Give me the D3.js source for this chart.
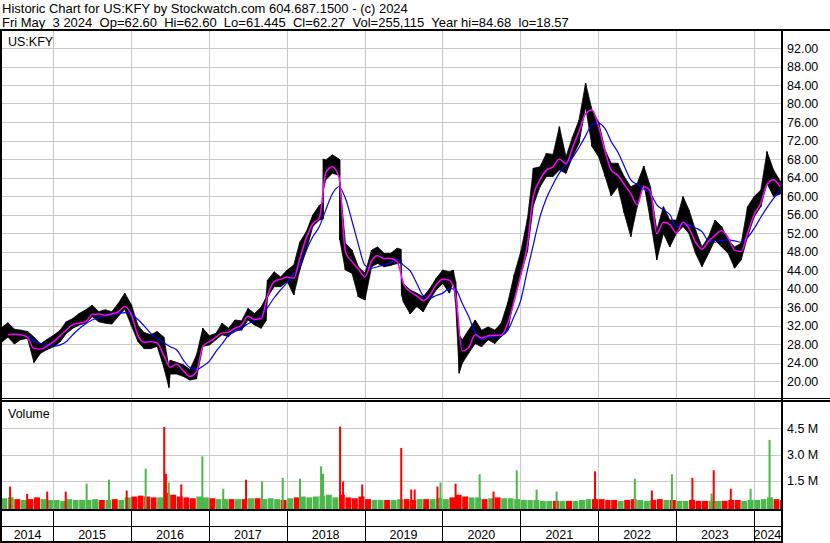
<!DOCTYPE html>
<html>
<head>
<meta charset="utf-8">
<script src="https://cdn.jsdelivr.net/npm/d3@7"></script>
<style>
  body { margin: 0; background: #fff; }
  svg { display: block; }
  text { font-family: "Liberation Sans", Arial, sans-serif; fill: #000; }
</style>
</head>
<body>
<script>
// ---- data (monthly, first sample May 2014) ----
const monthHigh = [
  31.5, 32.6, 31.2, 31.0, 30.7, 29.5, 28.0, 29.0,
  29.9, 31.0, 32.8, 33.5, 34.6, 35.4, 36.4, 35.0, 35.4, 35.0, 36.8, 39.0,
  36.5, 32.0, 30.5, 30.0, 30.7, 29.5, 24.5, 24.0, 23.5, 22.5, 25.5, 31.4,
  29.8, 30.3, 32.5, 31.4, 33.2, 33.0, 35.7, 34.6, 36.0, 41.8, 43.6, 42.5,
  44.0, 45.1, 50.0, 52.3, 55.9, 58.0, 67.8, 68.9, 68.0, 49.8, 48.3, 44.7,
  43.3, 48.3, 49.0, 47.6, 47.6, 48.7, 41.0, 39.7, 39.0, 38.2, 40.0, 42.2,
  44.0, 43.6, 41.5, 28.9, 31.0, 33.2, 31.0, 31.7, 31.0, 32.5, 37.0, 43.0,
  48.0, 55.0, 66.0, 66.3, 69.2, 69.0, 75.0, 68.5, 72.8, 76.4, 84.4, 78.6,
  76.0, 69.9, 67.1, 67.1, 64.2, 62.0, 62.7, 66.5, 62.0, 52.6, 57.7, 54.8,
  54.8, 59.9, 57.0, 52.6, 49.0, 51.2, 54.8, 53.4, 50.5, 49.0, 49.8, 57.7,
  59.9, 61.3, 69.6, 65.6, 63.3
];
const monthLow = [
  28.3, 29.5, 28.0, 29.0, 29.2, 24.0, 26.0, 26.8,
  27.4, 28.5, 30.2, 31.4, 32.1, 32.5, 33.9, 32.8, 32.5, 32.3, 34.0, 35.5,
  32.0, 28.5, 27.0, 27.0, 27.5, 23.0, 21.5, 21.5, 21.0, 20.2, 20.5, 27.5,
  27.8, 28.9, 30.0, 29.6, 31.0, 31.0, 33.2, 32.1, 31.4, 38.2, 40.4, 40.4,
  41.5, 38.6, 44.0, 48.3, 53.4, 54.8, 63.5, 64.9, 64.5, 44.0, 43.3, 38.2,
  37.5, 44.7, 45.4, 44.7, 45.0, 45.4, 37.0, 34.5, 36.1, 35.0, 37.5, 39.7,
  41.1, 39.0, 37.0, 23.8, 26.0, 28.1, 27.4, 28.9, 28.1, 29.6, 31.0, 38.0,
  43.0, 48.0, 58.0, 62.0, 64.2, 64.2, 65.6, 64.9, 68.5, 71.4, 79.3, 70.7,
  68.5, 64.2, 60.0, 62.0, 56.3, 51.2, 57.7, 62.7, 54.8, 46.2, 51.9, 49.0,
  51.9, 53.4, 51.9, 47.6, 44.7, 47.6, 50.5, 49.0, 47.6, 44.4, 46.2, 51.2,
  55.5, 57.7, 62.7, 59.9, 60.4
];
// sharp single-day moves
const eventDates = ["2016-06-27", "2017-09-25", "2018-06-20", "2018-06-22", "2018-09-06",
                    "2018-09-07", "2019-06-20", "2019-06-24", "2020-02-21", "2020-03-20"];
const eventHigh = [23.0, 38.0, 58.5, 68.0, 67.8, 63.0, 48.5, 42.0, 44.0, 30.0];
const eventLow  = [18.6, 33.0, 55.0, 61.5, 64.5, 50.5, 45.5, 38.5, 41.5, 21.7];

// magenta (short) moving average, from Jun 2014
const maShort = [
  30.0, 30.1, 30.0, 29.4, 27.0, 26.9, 27.6,
  28.5, 29.8, 31.0, 32.2, 32.5, 32.8, 34.4, 34.5, 34.2, 34.5, 35.0, 36.1,
  34.3, 29.8, 28.4, 28.5, 28.2, 25.5, 23.0, 23.6, 22.2, 21.0, 22.0, 27.5,
  28.5, 29.5, 30.4, 30.6, 31.4, 32.1, 34.0, 33.3, 33.5, 38.5, 41.5, 42.0,
  42.5, 42.2, 46.5, 51.0, 54.0, 55.3, 65.0, 66.3, 64.0, 48.0, 45.8, 44.2,
  42.5, 46.0, 47.1, 46.5, 46.5, 45.8, 41.0, 39.3, 38.4, 37.4, 38.6, 40.8,
  42.0, 41.8, 38.5, 26.5, 27.2, 30.0, 29.3, 29.8, 29.9, 29.9, 32.5, 37.3,
  43.0, 49.5, 60.0, 63.5, 65.6, 66.3, 68.0, 67.0, 70.5, 74.0, 77.8, 78.6,
  75.0, 69.5, 65.6, 64.5, 62.5, 60.5, 58.1, 62.0, 61.0, 51.9, 54.3, 53.8,
  52.0, 54.3, 53.0, 50.0, 48.5, 50.2, 51.5, 52.5, 51.0, 48.3, 48.0, 52.0,
  56.0, 58.5, 62.5, 63.5, 62.0
];
// blue (long) moving average, from Sep 2014
const maLong = [
  29.9, 28.7, 28.1, 27.8,
  27.5, 27.8, 28.5, 30.0, 31.3, 32.4, 33.2, 33.7, 34.1, 34.4, 34.6, 34.8,
  34.4, 33.3, 31.9, 30.3, 29.2, 28.3, 27.4, 26.7, 24.5, 22.9, 22.5, 23.2,
  24.3, 26.4, 28.0, 29.9, 30.7, 31.4, 32.4, 33.0, 34.0, 35.9, 38.0, 39.7,
  41.3, 43.2, 44.9, 48.3, 51.2, 53.4, 57.0, 60.5, 62.0, 59.5, 54.6, 49.5,
  45.0, 44.4, 44.7, 45.1, 45.6, 46.3, 45.0, 43.8, 41.1, 38.5, 37.9, 38.5,
  39.0, 40.0, 39.8, 36.8, 34.0, 30.5, 29.0, 29.5, 29.6, 29.8, 31.0, 34.0,
  37.5, 44.0, 49.5, 55.5, 59.5, 62.5, 65.0, 66.8, 68.3, 70.5, 73.0, 75.4,
  75.7, 74.5, 71.8, 69.5, 66.5, 63.5, 62.5, 61.5, 60.5, 58.1, 57.0, 56.0,
  53.3, 53.9, 53.7, 53.1, 52.3, 50.3, 50.0, 50.4, 50.5, 50.3, 50.0, 51.0,
  53.0, 55.4, 57.5, 59.5, 61.2
];

// typical daily volume per month (millions)
const monthVolume = [
  0.50, 0.55, 0.45, 0.40, 0.45, 0.55, 0.45, 0.40,
  0.40, 0.35, 0.45, 0.40, 0.40, 0.40, 0.45, 0.40, 0.40, 0.45, 0.40, 0.55,
  0.60, 0.65, 0.60, 0.55, 0.55, 0.80, 0.70, 0.60, 0.55, 0.50, 0.60, 0.55,
  0.50, 0.45, 0.45, 0.45, 0.45, 0.45, 0.50, 0.50, 0.45, 0.50, 0.45, 0.40,
  0.50, 0.55, 0.60, 0.55, 0.60, 0.65, 0.70, 0.55, 0.70, 0.55, 0.50, 0.60,
  0.45, 0.40, 0.40, 0.40, 0.40, 0.45, 0.45, 0.40, 0.45, 0.45, 0.45, 0.50,
  0.45, 0.55, 0.70, 0.60, 0.55, 0.55, 0.45, 0.50, 0.55, 0.50, 0.50, 0.45,
  0.40, 0.40, 0.40, 0.35, 0.35, 0.35, 0.35, 0.35, 0.35, 0.40, 0.45, 0.45,
  0.45, 0.40, 0.40, 0.35, 0.40, 0.45, 0.40, 0.35, 0.40, 0.45, 0.40, 0.40,
  0.35, 0.35, 0.40, 0.35, 0.35, 0.35, 0.35, 0.35, 0.40, 0.40, 0.35, 0.40,
  0.40, 0.45, 0.55, 0.45, 0.40
];
// heavy volume days
const spikeDates = ["2014-06-13", "2014-09-01", "2014-12-04", "2015-03-01", "2015-06-07", "2015-09-20",
  "2015-12-12", "2016-03-10", "2016-06-05", "2016-06-13", "2016-06-26", "2016-08-24", "2016-12-01",
  "2017-03-09", "2017-06-24", "2017-09-07", "2017-12-13", "2018-03-04", "2018-06-11", "2018-06-20",
  "2018-09-08", "2018-09-22", "2018-12-21", "2019-06-22", "2019-08-08", "2019-08-24", "2019-12-09",
  "2019-12-23", "2020-03-03", "2020-06-24", "2020-08-28", "2020-12-15", "2021-03-18", "2021-06-20",
  "2021-12-17", "2022-06-22", "2022-09-10", "2022-12-13", "2023-03-19", "2023-06-17", "2023-06-27",
  "2023-09-15", "2023-12-17", "2024-03-15"];
const spikeVolume = [1.17, 0.75, 0.88, 0.88, 1.33, 1.56, 0.94, 2.19, 4.58, 1.90, 1.40, 1.29, 2.90,
  1.04, 1.56, 1.46, 1.67, 1.62, 2.33, 1.90, 4.60, 1.46, 1.29, 3.37, 1.00, 1.00, 1.17, 1.40, 1.33,
  1.87, 0.88, 2.10, 1.00, 0.88, 2.04, 1.62, 0.94, 1.87, 1.67, 0.77, 2.10, 1.04, 1.04, 3.83];
const spikeUp = [0, 0, 0, 0, 1, 1, 0, 1, 0, 0, 1, 0, 1, 1, 0, 1, 1, 1, 1, 1, 0, 0, 0, 0, 0, 0, 0, 1, 0,
  1, 0, 1, 1, 1, 0, 1, 0, 1, 0, 1, 0, 0, 1, 1];

const priceTicks = d3.range(20, 93, 4);
const volumeTicks = [1.5, 3.0, 4.5];
const years = [2014, 2015, 2016, 2017, 2018, 2019, 2020, 2021, 2022, 2023, 2024];

const headerLine1 = "Historic Chart for US:KFY by Stockwatch.com 604.687.1500 - (c) 2024";
const headerLine2 = "Fri May  3 2024  Op=62.60  Hi=62.60  Lo=61.445  Cl=62.27  Vol=255,115  Year hi=84.68  lo=18.57";

// ---- build series ----
const parse = d3.timeParse("%Y-%m-%d");
const monthDates = monthHigh.map((_, i) => new Date(2014, 4 + i, 3));
let bars = monthDates.map((d, i) => ({ date: d, hi: monthHigh[i], lo: monthLow[i] }));
eventDates.forEach((s, i) => bars.push({ date: parse(s), hi: eventHigh[i], lo: eventLow[i] }));
bars.sort((a, b) => a.date - b.date);

const shortLine = maShort.map((v, i) => ({ date: monthDates[i + 1], v }));
const longLine = maLong.map((v, i) => ({ date: monthDates[i + 4], v }));

// ---- layout ----
const W = 830, H = 543;
const left = 2, right = 781;
const priceTop = 30, priceBottom = 398;
const volTop = 402, volBottom = 509;

const svg = d3.select("body").append("svg")
    .attr("width", W)
    .attr("height", H)
    .style("background-color", "#fff");

const x = d3.scaleTime()
    .domain([new Date(2014, 4, 6), new Date(2024, 4, 3)])
    .range([left, 780]);
const y = d3.scaleLinear().domain([20, 92]).range([381, 48]);
const yv = d3.scaleLinear().domain([0, 4.5]).range([507, 428.3]);

const grid = "#c8c8c8";
const yearStarts = years.slice(1).map(yr => new Date(yr, 0, 1));

// price grid
svg.append("g").selectAll("line").data(priceTicks).join("line")
    .attr("x1", left).attr("x2", right)
    .attr("y1", d => Math.round(y(d)) + 0.5).attr("y2", d => Math.round(y(d)) + 0.5)
    .attr("stroke", grid);
svg.append("g").selectAll("line").data(yearStarts).join("line")
    .attr("x1", d => Math.round(x(d)) + 0.5).attr("x2", d => Math.round(x(d)) + 0.5)
    .attr("y1", priceTop).attr("y2", priceBottom)
    .attr("stroke", grid);

// volume grid
svg.append("g").selectAll("line").data(volumeTicks).join("line")
    .attr("x1", left).attr("x2", right)
    .attr("y1", d => Math.round(yv(d)) + 0.5).attr("y2", d => Math.round(yv(d)) + 0.5)
    .attr("stroke", grid);
svg.append("g").selectAll("line").data(yearStarts).join("line")
    .attr("x1", d => Math.round(x(d)) + 0.5).attr("x2", d => Math.round(x(d)) + 0.5)
    .attr("y1", volTop).attr("y2", volBottom)
    .attr("stroke", grid);

// price band (daily bars drawn as high/low envelope)
svg.append("path")
    .datum(bars)
    .attr("d", d3.area().x(d => x(d.date)).y0(d => y(d.lo)).y1(d => y(d.hi)))
    .attr("fill", "#000")
    .attr("stroke", "#000")
    .attr("stroke-width", 0.8);
svg.append("g").selectAll("line").data(bars).join("line")
    .attr("x1", d => x(d.date)).attr("x2", d => x(d.date))
    .attr("y1", d => y(d.hi)).attr("y2", d => y(d.lo))
    .attr("stroke", "#000")
    .attr("stroke-width", 1.5);

// moving averages
svg.append("path")
    .datum(longLine)
    .attr("d", d3.line().x(d => x(d.date)).y(d => y(d.v)).curve(d3.curveMonotoneX))
    .attr("fill", "none")
    .attr("stroke", "#0000ff")
    .attr("stroke-width", 1.2);
svg.append("path")
    .datum(shortLine)
    .attr("d", d3.line().x(d => x(d.date)).y(d => y(d.v)).curve(d3.curveMonotoneX))
    .attr("fill", "none")
    .attr("stroke", "#ff00ff")
    .attr("stroke-width", 1.5);

// volume bars
const volBars = monthDates.map((d, i) => ({
  date: d,
  next: i < monthDates.length - 1 ? monthDates[i + 1] : new Date(2024, 4, 6),
  v: monthVolume[i],
  up: i === 0 ? true : (monthHigh[i] + monthLow[i]) >= (monthHigh[i - 1] + monthLow[i - 1])
}));
svg.append("g").selectAll("rect").data(volBars).join("rect")
    .attr("x", d => x(d.date))
    .attr("width", d => Math.max(1, x(d.next) - x(d.date) - 0.6))
    .attr("y", d => yv(d.v))
    .attr("height", d => volBottom - yv(d.v))
    .attr("fill", d => d.up ? "#4cb84c" : "#ff0000");

svg.append("g").selectAll("rect").data(spikeDates.map((s, i) => ({
      date: parse(s), v: spikeVolume[i], up: spikeUp[i] === 1 })))
  .join("rect")
    .attr("x", d => x(d.date) - 1)
    .attr("width", 2)
    .attr("y", d => yv(d.v))
    .attr("height", d => volBottom - yv(d.v))
    .attr("fill", d => d.up ? "#4cb84c" : "#ff0000");

// ---- frame ----
const frame = svg.append("g").attr("stroke", "#000").attr("fill", "none");
frame.append("line").attr("x1", 1).attr("x2", 1).attr("y1", priceTop).attr("y2", H).attr("stroke-width", 2);
frame.append("line").attr("x1", right + 1).attr("x2", right + 1).attr("y1", priceTop).attr("y2", H).attr("stroke-width", 2);
frame.append("line").attr("x1", 0).attr("x2", W).attr("y1", priceTop).attr("y2", priceTop).attr("stroke-width", 2);
frame.append("line").attr("x1", 0).attr("x2", W).attr("y1", 398.5).attr("y2", 398.5).attr("stroke-width", 1);
frame.append("line").attr("x1", 0).attr("x2", W).attr("y1", 401).attr("y2", 401).attr("stroke-width", 2);
frame.append("line").attr("x1", 0).attr("x2", right).attr("y1", 510).attr("y2", 510).attr("stroke-width", 2);
frame.append("line").attr("x1", 0).attr("x2", right).attr("y1", 526.5).attr("y2", 526.5).attr("stroke-width", 1);
frame.append("line").attr("x1", 0).attr("x2", right).attr("y1", 542).attr("y2", 542).attr("stroke-width", 2);
frame.selectAll("line.yr").data(yearStarts).join("line")
    .attr("class", "yr")
    .attr("x1", d => Math.round(x(d)) + 0.5).attr("x2", d => Math.round(x(d)) + 0.5)
    .attr("y1", volBottom).attr("y2", H)
    .attr("stroke-width", 1);

// ---- text ----
svg.append("text").attr("x", 2).attr("y", 13).style("font-size", "13px").text(headerLine1);
svg.append("text").attr("x", 2).attr("y", 26.5).style("font-size", "13px")
    .style("white-space", "pre").text(headerLine2);
svg.append("text").attr("x", 8).attr("y", 46).style("font-size", "12.5px").text("US:KFY");
svg.append("text").attr("x", 8).attr("y", 418).style("font-size", "12.5px").text("Volume");

svg.append("g").selectAll("text").data(priceTicks).join("text")
    .attr("x", 787).attr("y", d => y(d) + 4.5)
    .style("font-size", "12.5px")
    .text(d => d.toFixed(2));
svg.append("g").selectAll("text").data(volumeTicks).join("text")
    .attr("x", 787).attr("y", d => yv(d) + 4.5)
    .style("font-size", "12.5px")
    .text(d => d.toFixed(1) + " M");

const edges = [left, ...yearStarts.map(d => x(d)), right];
svg.append("g").selectAll("text").data(years).join("text")
    .attr("x", (d, i) => (edges[i] + edges[i + 1]) / 2)
    .attr("y", 539)
    .attr("text-anchor", "middle")
    .style("font-size", "12.5px")
    .text(d => d);
</script>
</body>
</html>
